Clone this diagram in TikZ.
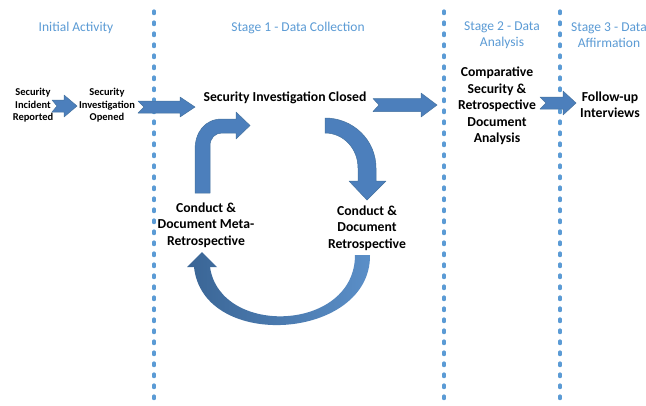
\documentclass[tikz,border=0pt]{standalone}
\usepackage{fontspec}
\setmainfont{Carlito}
\definecolor{headblue}{HTML}{5B9BD5}
\definecolor{dotblue}{HTML}{5B9BD5}
\definecolor{arrowblue}{HTML}{4C7FBC}
\definecolor{arrowedge}{HTML}{44729F}
\definecolor{curvedark}{HTML}{3A6595}
\definecolor{curvelight}{HTML}{5B8FC8}

% notched block arrow: tail x, tip x, centre y, body half-height,
% head half-height, head length, notch depth
\newcommand\notcharrow[7]{%
  \filldraw[barrow] (#1,{#3-#4}) -- ({#2-#6},{#3-#4}) -- ({#2-#6},{#3-#5})
    -- (#2,#3) -- ({#2-#6},{#3+#5}) -- ({#2-#6},{#3+#4}) -- (#1,{#3+#4})
    -- ({#1+#7},#3) -- cycle;}

\begin{document}
\begin{tikzpicture}[x=1pt,y=-1pt,
  heading/.style={text=headblue, font=\fontsize{13.5}{16.5}\selectfont,
    align=center, inner sep=0pt},
  smalltext/.style={font=\bfseries\fontsize{10.5}{12.5}\selectfont,
    align=center, inner sep=0pt},
  maintext/.style={font=\bfseries\fontsize{13.7}{16.5}\selectfont,
    align=center, inner sep=0pt},
  stagesep/.style={draw=dotblue, line width=3.2pt, line cap=round,
    dash pattern=on 2.6pt off 8.4pt},
  barrow/.style={fill=arrowblue, draw=arrowedge, line width=0.5pt,
    line join=round}]

\useasboundingbox (0,0) rectangle (646,405);
\fill[white] (0,0) rectangle (646,405);

% stage separators
\draw[stagesep] (154,11) -- (154,405);
\draw[stagesep] (444,11) -- (444,405);
\draw[stagesep] (560,11) -- (560,405);

% stage headings
\node[heading] (hinit) at (76,28) {Initial Activity};
\node[heading] (hstage1) at (298,28) {Stage 1 - Data Collection};
\node[heading] (hstage2) at (502,35) {Stage 2 - Data\\Analysis};
\node[heading] (hstage3) at (609,35) {Stage 3 - Data\\Affirmation};

% activities
\node[smalltext] (reported) at (33,105.5) {Security\\Incident\\Reported};
\node[smalltext] (opened) at (107,105.5) {Security\\Investigation\\Opened};
\node[maintext] (closed) at (285,98) {Security Investigation Closed};
\node[maintext] (meta) at (206,225) {Conduct \&\\Document Meta-\\Retrospective};
\node[maintext] (retro) at (367,228) {Conduct \&\\Document\\Retrospective};
\node[maintext] (compare) at (497,106) {Comparative\\Security \&\\Retrospective\\Document\\Analysis};
\node[maintext] (followup) at (610,104.5) {Follow-up\\Interviews};

% straight block arrows
\notcharrow{52}{77}{106}{6}{11}{13}{5}
\notcharrow{138}{195}{107}{6}{10}{15}{6}
\notcharrow{373}{437}{105}{6.5}{12}{16}{6}
\notcharrow{540}{576}{103}{6}{12}{13}{6}

% bent arrow: up from the meta-retrospective, then right
\filldraw[barrow] (195,193) -- (195,150) .. controls (195,132) and (205,119) .. (222,119)
  -- (236,119) -- (236,112) -- (250,125.5) -- (236,139) -- (236,133) -- (222,133)
  .. controls (215,133) and (210,138) .. (210,146) -- (210,193) -- cycle;

% U-turn arrow: right from closure, then down to the retrospective
\filldraw[barrow] (325,118) .. controls (353,118) and (376,140) .. (376,168)
  -- (376,181) -- (386,181) -- (367,200) -- (349,181) -- (358,181) -- (358,168)
  .. controls (358,148) and (343,133) .. (325,133) -- cycle;

% curved return arrow underneath
\shade[left color=curvedark, right color=curvelight]
  (370,255) .. controls (371,340) and (203,352) .. (194,267)
  -- (187,267) -- (202,252) -- (217,267) -- (210,267)
  .. controls (220,337) and (355,332) .. (355,255) -- cycle;

\end{tikzpicture}
\end{document}
